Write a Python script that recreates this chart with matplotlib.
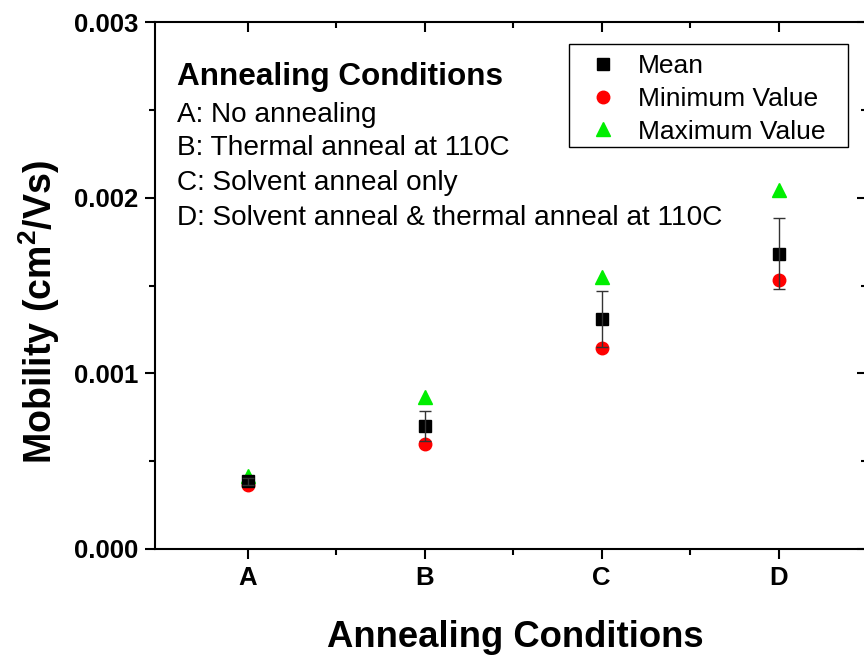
import numpy as np
import matplotlib
matplotlib.use("Agg")
import matplotlib.pyplot as plt
from matplotlib.patches import Rectangle
from matplotlib.ticker import MultipleLocator, FixedLocator

# -------------------------------------------------------------
# Data
# -------------------------------------------------------------
conditions = ["A", "B", "C", "D"]
mean_vals = [0.000385, 0.000700, 0.001310, 0.001682]
mean_err = [0.000020, 0.000087, 0.000158, 0.000202]
min_vals = [0.000364, 0.000598, 0.001146, 0.001532]
max_vals = [0.000415, 0.000865, 0.001548, 0.002043]

legend_notes = [
    "A: No annealing",
    "B: Thermal anneal at 110C",
    "C: Solvent anneal only",
    "D: Solvent anneal & thermal anneal at 110C",
]

# -------------------------------------------------------------
# Style
# -------------------------------------------------------------
plt.rcParams["font.family"] = ["Liberation Sans", "DejaVu Sans"]
plt.rcParams["mathtext.fontset"] = "custom"
plt.rcParams["mathtext.rm"] = "Liberation Sans"
plt.rcParams["mathtext.bf"] = "Liberation Sans:bold"

fig = plt.figure(figsize=(8.64, 6.55), dpi=100)
ax = fig.add_axes([155 / 864, 106 / 655, 712 / 864, 527 / 655])

x = np.arange(1, len(conditions) + 1)

mean_line, = ax.plot(x, mean_vals, "s", color="black", markersize=8, label="Mean", zorder=4)
min_line, = ax.plot(x, min_vals, "o", color="red", markersize=9, label="Minimum Value", zorder=3)
max_line, = ax.plot(x, max_vals, "^", color="#00ee00", markersize=10, label="Maximum Value", zorder=3)
ax.errorbar(x, mean_vals, yerr=mean_err, fmt="none", ecolor="#333333",
            elinewidth=1, capsize=4, capthick=1, zorder=5)

ax.set_xlim(0.475, 4.5)
ax.set_ylim(0, 0.003)

ax.xaxis.set_major_locator(FixedLocator(x))
ax.xaxis.set_minor_locator(FixedLocator(x[:-1] + 0.5))
ax.set_xticklabels(conditions)
ax.yaxis.set_major_locator(MultipleLocator(0.001))
ax.yaxis.set_minor_locator(MultipleLocator(0.0005))
ax.set_yticklabels(["%.3f" % v for v in ax.get_yticks()])

for s in ax.spines.values():
    s.set_linewidth(1.5)

ax.tick_params(axis="both", which="major", labelsize=18.5, width=1.5, length=7, pad=5)
ax.tick_params(axis="both", which="minor", width=1.5, length=4)
ax.tick_params(axis="both", which="both", top=True, right=True)
for lab in ax.get_xticklabels() + ax.get_yticklabels():
    lab.set_fontweight("bold")

# inward ticks on the top / right spines only
for t in ax.xaxis.get_major_ticks() + ax.xaxis.get_minor_ticks():
    t.tick2line.set_marker(3)
for t in ax.yaxis.get_major_ticks() + ax.yaxis.get_minor_ticks():
    t.tick2line.set_marker(0)

ax.set_xlabel("Annealing Conditions", fontsize=26.3, fontweight="bold")
ax.set_ylabel(r"Mobility (cm$^{\mathbf{2}}$/Vs)", fontsize=27, fontweight="bold")
ax.xaxis.set_label_coords(0.506, -0.135)
ax.yaxis.set_label_coords(-0.131, 0.45)

# annotation block
ax.text(0.031, 0.8805, "Annealing Conditions", transform=ax.transAxes,
        fontsize=22.7, fontweight="bold", va="baseline")
note_y = [0.810, 0.7476, 0.681, 0.6148]
for note, yy in zip(legend_notes, note_y):
    ax.text(0.031, yy, note, transform=ax.transAxes, fontsize=20.2, va="baseline")

# legend with a hand drawn frame (the original box is wide)
ax.add_patch(Rectangle((0.5815, 0.7628), 0.3915, 0.1952, transform=ax.transAxes,
                       facecolor="white", edgecolor="black", linewidth=1.0, zorder=6))
leg = ax.legend([mean_line, min_line, max_line],
                ["Mean", "Minimum Value", "Maximum Value"],
                loc="upper left", bbox_to_anchor=(0.611, 0.939), borderaxespad=0,
                fontsize=19, frameon=False, labelspacing=0.33, borderpad=0,
                handlelength=1.0, handletextpad=0.83)
leg.set_zorder(7)

fig.savefig("out.png", dpi=100)
